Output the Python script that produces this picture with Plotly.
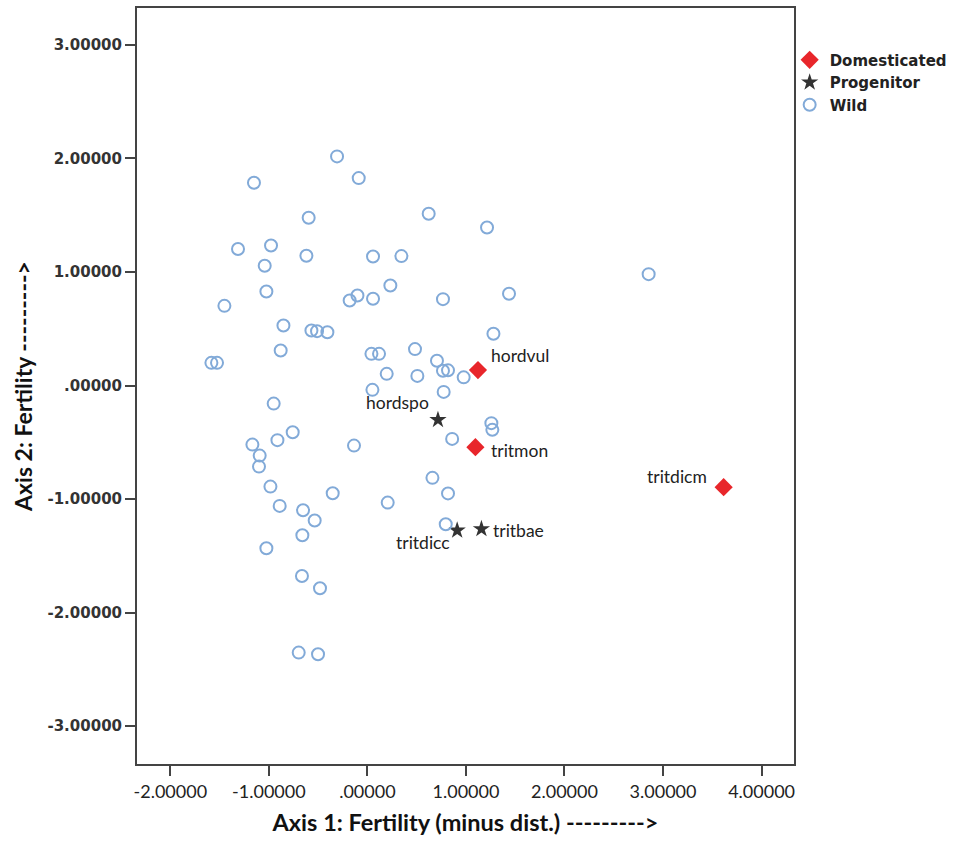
import plotly.graph_objects as go

# ---- data ----
wild_x = [-0.308, -1.151, -0.088, -0.596, 0.622, 1.214, -1.313, -0.978, -0.619, 0.057,
          0.345, -1.042, -1.025, -1.451, -0.180, -0.101, 0.057, 0.233, 0.767, 1.437,
          -0.852, -0.568, -0.511, -0.406, 1.279, -0.880, -1.583, -1.526, 0.041, 0.118,
          0.483, 0.706, 0.767, 0.818, 0.977, 0.196, 0.507, 0.051, 0.774, -0.951,
          0.860, 1.258, 1.268, -0.758, -0.913, -1.167, -1.093, -1.100, -0.136, 0.660,
          0.818, -0.984, -0.352, 0.206, -0.890, -0.653, -0.535, -0.660, -1.025, 0.795,
          -0.664, -0.481, -0.697, -0.501, 2.854]
wild_y = [2.018, 1.786, 1.827, 1.478, 1.513, 1.392, 1.202, 1.233, 1.143, 1.137,
          1.140, 1.055, 0.828, 0.702, 0.749, 0.793, 0.764, 0.881, 0.761, 0.808,
          0.529, 0.485, 0.479, 0.470, 0.456, 0.308, 0.200, 0.200, 0.279, 0.279,
          0.321, 0.218, 0.130, 0.134, 0.072, 0.103, 0.085, -0.038, -0.056, -0.159,
          -0.470, -0.331, -0.390, -0.411, -0.481, -0.520, -0.617, -0.714, -0.529, -0.813,
          -0.950, -0.890, -0.948, -1.031, -1.060, -1.098, -1.188, -1.318, -1.433, -1.221,
          -1.677, -1.785, -2.352, -2.367, 0.981]

dom_names = ["hordvul", "tritmon", "tritdicm"]
dom_x = [1.122, 1.096, 3.615]
dom_y = [0.136, -0.543, -0.895]

prog_names = ["hordspo", "tritdicc", "tritbae"]
prog_x = [0.716, 0.911, 1.157]
prog_y = [-0.302, -1.276, -1.263]

tick_vals_x = [-2, -1, 0, 1, 2, 3, 4]
tick_text_x = ["-2.00000", "-1.00000", ".00000", "1.00000", "2.00000", "3.00000", "4.00000"]
tick_vals_y = [-3, -2, -1, 0, 1, 2, 3]
tick_text_y = ["-3.00000", "-2.00000", "-1.00000", ".00000", "1.00000", "2.00000", "3.00000"]

# label placement styles (anchor, xshift, yshift)
dom_label_pos = [("left", 11, 15), ("left", 14, -3), ("right", -15, 11)]
prog_label_pos = [("right", -7, 17), ("right", -5, -12), ("left", 10, -2)]

fig = go.Figure()
fig.add_trace(go.Scatter(
    x=dom_x, y=dom_y, mode="markers", name="Domesticated",
    marker=dict(symbol="diamond", size=14, color="#e8262b", line=dict(width=0)),
))
fig.add_trace(go.Scatter(
    x=prog_x, y=prog_y, mode="markers", name="Progenitor",
    marker=dict(symbol="star", size=13, color="#333333", line=dict(width=0)),
))
fig.add_trace(go.Scatter(
    x=wild_x, y=wild_y, mode="markers", name="Wild",
    marker=dict(symbol="circle-open", size=12, color="#82aad8", line=dict(width=2, color="#82aad8")),
))

label_font = dict(family="Lato, Open Sans, sans-serif", size=17.5, color="#222222")
for names, xs, ys, pos in [(dom_names, dom_x, dom_y, dom_label_pos),
                           (prog_names, prog_x, prog_y, prog_label_pos)]:
    for n, xv, yv, (anc, xs_, ys_) in zip(names, xs, ys, pos):
        fig.add_annotation(x=xv, y=yv, xref="x", yref="y", text=n, showarrow=False,
                           xanchor=anc, yanchor="middle", xshift=xs_, yshift=ys_,
                           font=label_font)

axis_common = dict(showline=True, mirror=True, linecolor="#444444", linewidth=2,
                   showgrid=False, zeroline=False, ticks="outside", ticklen=10,
                   tickwidth=2, tickcolor="#444444")

fig.update_layout(
    width=955, height=841,
    margin=dict(l=137, r=161, t=8, b=77, autoexpand=False),
    paper_bgcolor="white", plot_bgcolor="white",
    xaxis=dict(range=[-2.338, 4.329], tickvals=tick_vals_x, ticktext=tick_text_x,
               tickfont=dict(family="Lato, sans-serif", size=18, color="#222222"),
               title=dict(text="Axis 1: Fertility (minus dist.) --------->",
                          font=dict(family="Lato, sans-serif", size=23.5, color="#111111", weight="bold"),
                          standoff=14),
               automargin=False, **axis_common),
    yaxis=dict(range=[-3.333, 3.325], tickvals=tick_vals_y, ticktext=tick_text_y,
               tickfont=dict(family="DejaVu Sans, sans-serif", size=15, color="#333333", weight="bold"),
               title=dict(text="Axis 2: Fertility --------->",
                          font=dict(family="Lato, sans-serif", size=23, color="#111111", weight="bold"),
                          standoff=8),
               automargin=False, **axis_common),
    legend=dict(x=0.9934, y=0.953, xanchor="left", yanchor="top",
                font=dict(family="DejaVu Sans, sans-serif", size=15, color="#222222", weight="bold"),
                bgcolor="rgba(0,0,0,0)", borderwidth=0, itemclick=False),
    showlegend=True,
)

fig.write_html("out.html", config={"displayModeBar": False},
               post_script="document.body.style.margin='0';")
